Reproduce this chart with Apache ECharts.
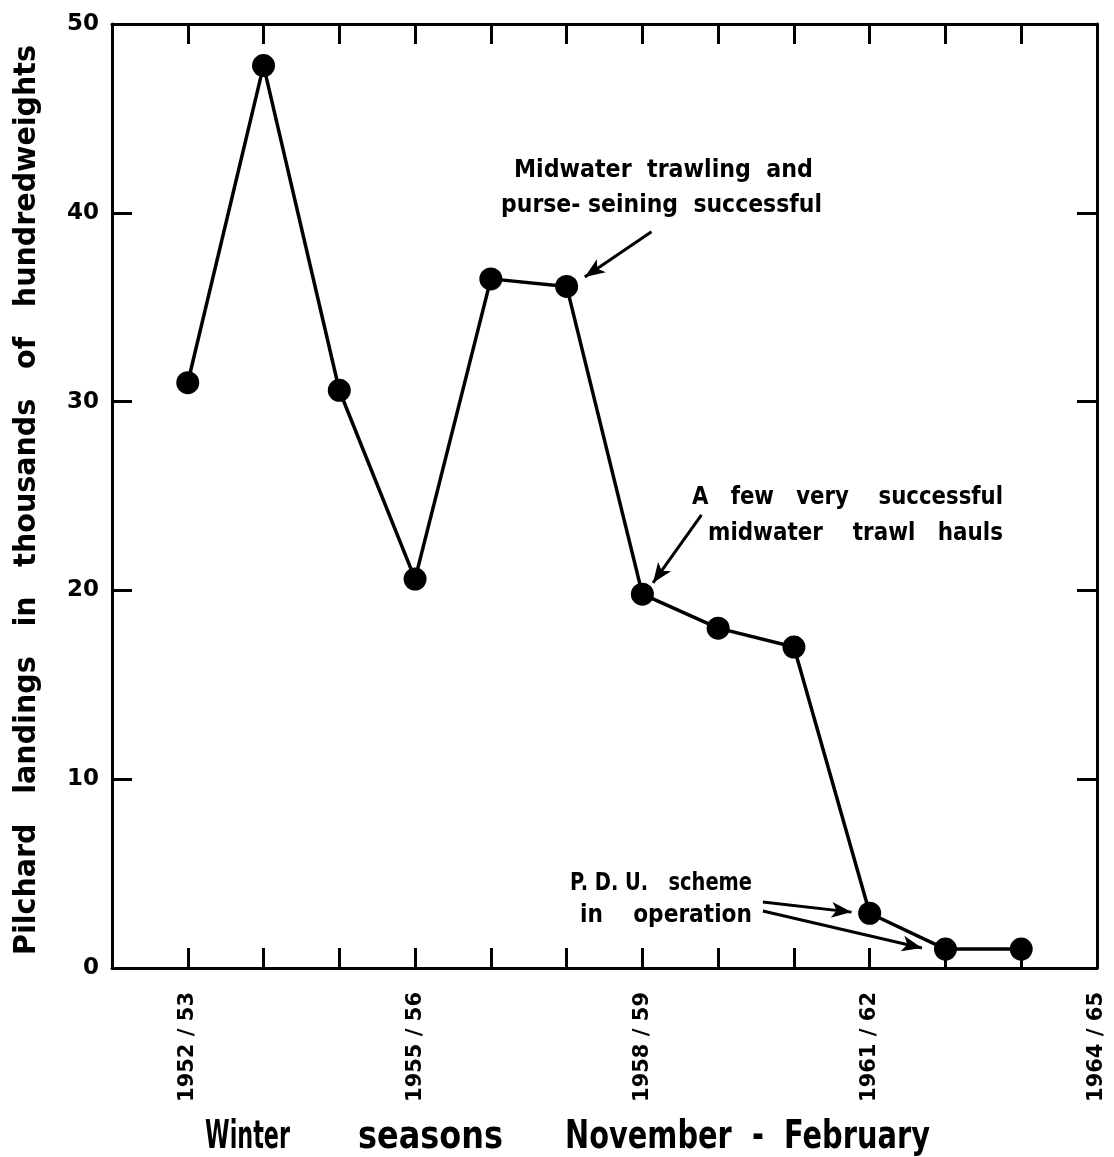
<!DOCTYPE html>
<html>
<head>
<meta charset="utf-8">
<script src="https://cdn.jsdelivr.net/npm/echarts@6/dist/echarts.min.js"></script>
<style>
  html, body { margin: 0; padding: 0; background: #fff; }
  #DataChart { width: 1114px; height: 1157px; }
</style>
</head>
<body>
<div id="DataChart"></div>
<script>
// seasons along the x axis (index 0 and 13 are only the frame ends)
var seasons = ['1951/52', '1952/53', '1953/54', '1954/55', '1955/56', '1956/57', '1957/58',
               '1958/59', '1959/60', '1960/61', '1961/62', '1962/63', '1963/64', '1964/65'];
var labelledSeasons = ['1952/53', '1955/56', '1958/59', '1961/62', '1964/65'];
// pilchard landings, thousands of cwt, 1952/53 .. 1963/64
var landingSeasons = ['1952/53', '1953/54', '1954/55', '1955/56', '1956/57', '1957/58',
                      '1958/59', '1959/60', '1960/61', '1961/62', '1962/63', '1963/64'];
var landings = [31.0, 47.8, 30.6, 20.6, 36.5, 36.1, 19.8, 18.0, 17.0, 2.9, 1.0, 1.0];
var yTicks = [0, 10, 20, 30, 40, 50];

// annotation arrows, in data space [season index, value]
var arrow1 = [[7.12, 39.0], [6.24, 36.6]];
var arrow2 = [[7.78, 24.0], [7.14, 20.4]];
var arrow3 = [[8.59, 3.5], [9.76, 2.96]];
var arrow4 = [[8.59, 3.02], [10.69, 1.06]];

var FONT = "'DejaVu Sans', sans-serif";

var myChart = echarts.init(document.getElementById('DataChart'));

// narrow the heavy font so a text fills the span it has in the print
var ctx = document.createElement('canvas').getContext('2d');
function fitText(str, left, right, cy, size, rot) {
    var font = 'bold ' + size + 'px ' + FONT;
    ctx.font = font;
    var w = ctx.measureText(str).width;
    var el = {
        type: 'text',
        x: left, y: cy,
        scaleX: (right - left) / w,
        style: { text: str, fill: '#000', font: font, textAlign: 'left', textVerticalAlign: 'middle' }
    };
    if (rot) { el.rotation = rot; }
    return el;
}

function arrowLine(a) {
    return [{ coord: a[0] }, { coord: a[1] }];
}

var points = landingSeasons.map(function (s, i) {
    return [seasons.indexOf(s), landings[i]];
});

var tickStyle = { color: '#000', width: 3 };
function xAxisOf(pos, labels) {
    return {
        type: 'value',
        position: pos,
        min: 0,
        max: seasons.length - 1,
        interval: 1,
        axisLine: { show: true, onZero: false, lineStyle: { color: '#000', width: 3 } },
        axisTick: { show: true, inside: true, length: 20, lineStyle: tickStyle },
        axisLabel: {
            show: labels,
            rotate: 90,
            margin: 24,
            color: '#000',
            fontFamily: FONT,
            fontWeight: 'bold',
            fontSize: 21,
            formatter: function (v) {
                var s = seasons[Math.round(v)];
                return labelledSeasons.indexOf(s) >= 0 ? s.replace('/', ' / ') : '';
            }
        },
        splitLine: { show: false }
    };
}
function yAxisOf(pos, labels) {
    return {
        type: 'value',
        position: pos,
        min: yTicks[0],
        max: yTicks[yTicks.length - 1],
        interval: 10,
        axisLine: { show: true, onZero: false, lineStyle: { color: '#000', width: 3 } },
        axisTick: { show: true, inside: true, length: 20, lineStyle: tickStyle },
        axisLabel: {
            show: labels,
            margin: 13,
            color: '#000',
            fontFamily: FONT,
            fontWeight: 'bold',
            fontSize: 23
        },
        splitLine: { show: false }
    };
}

var option = {
    backgroundColor: '#fff',
    animation: false,
    grid: { left: 112, top: 24, right: 17, bottom: 189 },
    xAxis: [xAxisOf('bottom', true), xAxisOf('top', false)],
    yAxis: [yAxisOf('left', true), yAxisOf('right', false)],
    series: [
        {
            type: 'line',
            data: points,
            symbol: 'circle',
            symbolSize: 23,
            showAllSymbol: true,
            itemStyle: { color: '#000' },
            lineStyle: { color: '#000', width: 3.5 },
            markLine: {
                silent: true,
                symbol: ['none', 'arrow'],
                symbolSize: [12, 20],
                label: { show: false },
                lineStyle: { color: '#000', width: 3, type: 'solid' },
                data: [arrowLine(arrow1), arrowLine(arrow2), arrowLine(arrow3), arrowLine(arrow4)]
            }
        }
    ],
    graphic: [
        fitText('Pilchard   landings   in   thousands   of   hundredweights', 0, 910, 0, 31, Math.PI / 2),
        fitText('Winter', 205, 290, 1138, 39),
        fitText('seasons', 358, 503, 1138, 39),
        fitText('November  -  February', 565, 930, 1138, 39),
        fitText('Midwater  trawling  and', 514, 813, 170, 25),
        fitText('purse- seining  successful', 501, 822, 205, 25),
        fitText('A   few   very    successful', 692, 1003, 497, 25),
        fitText('midwater    trawl   hauls', 708, 1003, 533, 25),
        fitText('P. D. U.   scheme', 570, 752, 883, 25),
        fitText('in    operation', 580, 752, 915, 25)
    ]
};
// the rotated axis title runs bottom to top from y = 955, centred near x = 27
option.graphic[0].x = 27;
option.graphic[0].y = 955;

myChart.setOption(option);
</script>
</body>
</html>
